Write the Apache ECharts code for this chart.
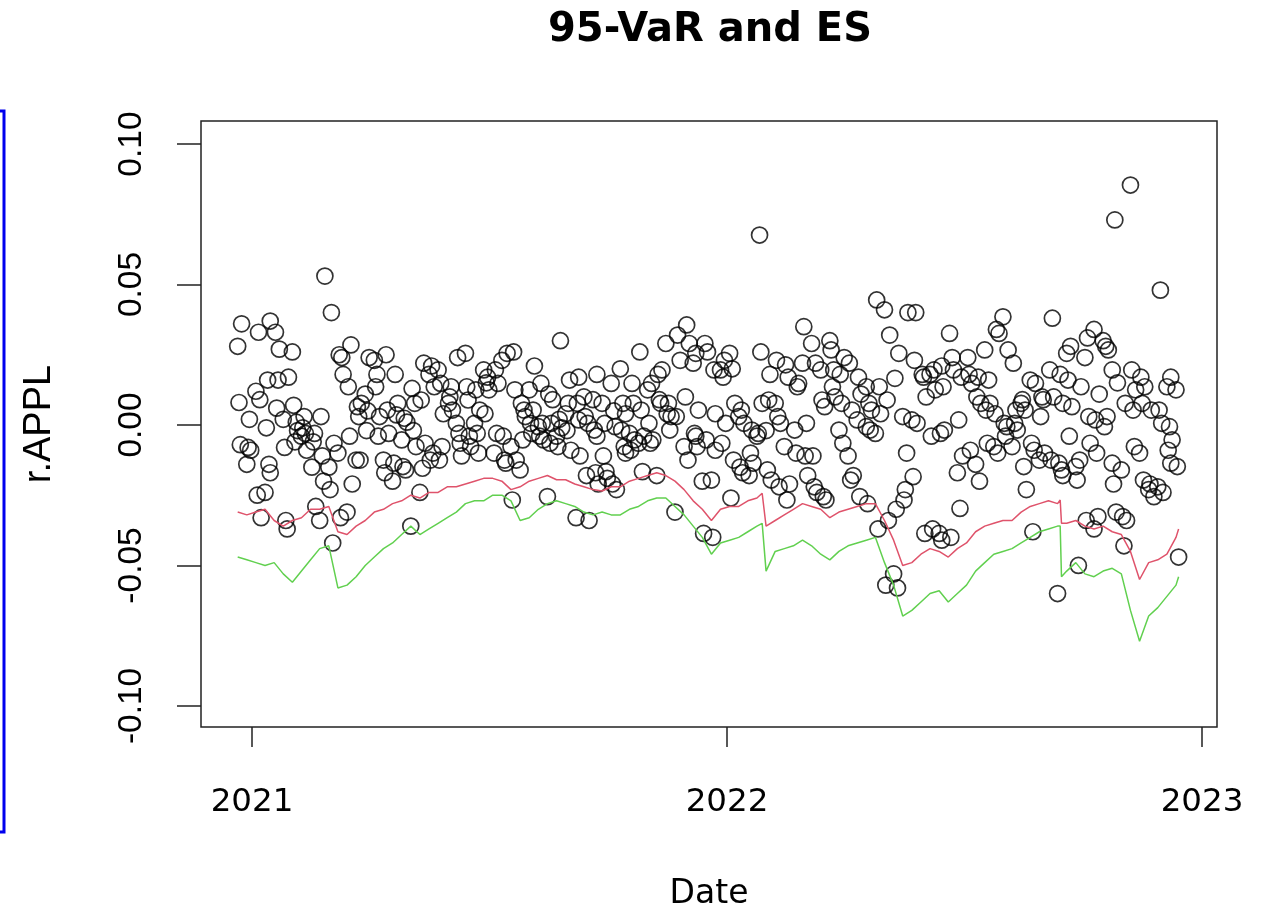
<!DOCTYPE html>
<html><head><meta charset="utf-8">
<script src="https://cdn.jsdelivr.net/npm/echarts@6/dist/echarts.min.js"></script>
<style>html,body{margin:0;padding:0;background:#fff}#c{width:1266px;height:909px}</style>
</head><body><div id="c"></div>
<script>
// ---------- DATA ----------
const holidays = ['2020-12-25','2021-01-01','2021-01-18','2021-02-15','2021-04-02','2021-05-31','2021-07-05','2021-09-06','2021-11-25','2021-12-24','2022-01-17','2022-02-21','2022-04-15','2022-05-30','2022-06-20','2022-07-04','2022-09-05','2022-11-24'];
const firstDay = '2020-12-21', lastDay = '2022-12-14';
const yearTicks = ['2021-01-01','2022-01-01','2023-01-01'];
const yTicks = [-0.10,-0.05,0.00,0.05,0.10];

// daily returns r.APPL, listed month by month (in date order within a month)
const r2020_12 = [0.028,0.008,-0.007,0.036,-0.014,-0.008,0.002,-0.009];
const r2021_01 = [0.012,-0.025,0.033,0.009,-0.033,-0.024,-0.001,0.016,-0.014,-0.017,0.037,0.033,0.006,0.016,0.027,0.002,-0.008,-0.034,-0.037,0.017];
const r2021_02 = [0.026,0.007,-0.006,0.001,-0.002,-0.004,-0.001,0.003,-0.003,-0.009,-0.015,-0.006,-0.003,-0.029,-0.034,0.003,-0.011,-0.020,0.053];
const r2021_03 = [-0.015,-0.023,0.040,-0.042,-0.0065,-0.010,0.025,-0.033,0.024,0.018,-0.031,0.0136,-0.004,0.0285,-0.021,-0.0125,0.0065,0.003,-0.0125,0.0077,0.011,-0.002,0.005];
const r2021_04 = [0.024,0.023,0.0136,0.018,-0.004,0.003,-0.0125,-0.017,0.025,0.0053,-0.003,-0.020,-0.0136,0.018,0.0036,0.0077,-0.0053,-0.0148,0.0024,-0.016,0.001];
const r2021_05 = [-0.036,0.013,-0.002,0.0077,-0.0077,-0.024,0.0089,-0.0154,0.022,-0.0065,0.018,-0.0125,0.021,-0.010,0.0136,0.0196,-0.0125,0.0148,-0.0077,0.004];
const r2021_06 = [0.0077,0.010,0.0136,0.0053,0.0006,0.024,-0.003,-0.0065,-0.011,0.0255,0.0136,0.0089,-0.004,-0.0077,0.0006,0.0125,-0.003,-0.010,0.0053,0.0196,0.004,0.015];
const r2021_07 = [0.017,0.0125,-0.010,0.0196,-0.003,0.0148,0.023,-0.004,-0.0125,-0.0136,0.0255,-0.0077,-0.0267,0.026,0.0125,-0.0125,-0.016,0.0077,-0.0053,0.0053,0.003];
const r2021_08 = [0.0125,0.0006,-0.003,0.0053,0.021,-0.0006,-0.004,0.0148,0.0006,-0.0053,-0.0255,0.011,-0.0065,0.0006,0.009,-0.004,-0.0077,0.002,0.030,-0.001,0.004,-0.002];
const r2021_09 = [0.0077,0.016,-0.009,-0.033,0.0077,0.0018,0.017,-0.011,0.010,0.003,-0.018,0.0006,-0.034,0.009,-0.0018,-0.017,0.018,-0.004,-0.021,0.0077,-0.011,0.0006,-0.0166];
const r2021_10 = [-0.019,0.0148,-0.021,0.005,-0.0006,-0.023,0.020,-0.0018,0.0077,-0.0077,-0.010,0.004,-0.003,-0.009,0.0148,0.0077,-0.0053,-0.0065,0.026,0.0053,-0.0166,-0.004];
const r2021_11 = [0.0125,0.0006,-0.0065,0.0148,-0.0053,-0.018,0.018,0.009,0.0077,0.0196,0.029,0.004,0.0077,-0.0018,0.003,-0.031,0.003,0.032,0.023,-0.0077,0.010];
const r2021_12 = [0.0356,-0.0125,0.029,0.022,-0.003,0.0255,-0.004,-0.0077,0.0053,-0.020,-0.0386,0.029,-0.0053,0.026,-0.0196,-0.040,0.0196,-0.009,0.004,0.0196,-0.0065,0.017,0.023,0.0006];
const r2022_01 = [0.0255,-0.026,0.020,-0.0125,0.0077,0.003,-0.015,0.0053,-0.017,0.0006,-0.018,-0.010,-0.0018,-0.0136,-0.004,-0.003,0.0676,0.026,0.0077,-0.002];
const r2022_02 = [-0.016,0.0089,0.018,-0.0196,0.0077,0.023,0.003,-0.022,0.0006,-0.0077,0.0214,-0.0267,0.017,-0.021,-0.0018,-0.010,0.0136,0.0148,0.022];
const r2022_03 = [0.035,-0.011,0.0006,-0.018,0.029,-0.011,-0.022,0.022,-0.024,0.0196,0.0089,-0.0255,0.0065,-0.0267,0.030,0.0267,0.0136,0.0196,0.010,-0.0018,0.018,0.0077,-0.0065];
const r2022_04 = [0.024,-0.011,0.022,-0.0196,0.0053,-0.018,0.0018,0.017,-0.0255,0.011,0.0136,-0.0006,-0.028,0.0077,-0.0018,0.0053,-0.003,0.0445,-0.037,0.0136,0.004];
const r2022_05 = [0.041,-0.057,0.0089,-0.034,0.032,-0.053,0.0166,-0.030,-0.058,0.0255,0.003,-0.0267,-0.023,-0.010,0.040,0.0018,-0.0184,0.023,0.040,0.0006,0.018];
const r2022_06 = [0.017,-0.0386,0.010,0.018,-0.004,-0.037,0.0196,0.0125,-0.0386,-0.003,0.021,-0.041,0.0136,-0.0018,0.0326,-0.040,0.024,0.0196,-0.017,0.0018,-0.0297,0.017];
const r2022_07 = [-0.011,0.024,0.018,-0.009,0.0148,-0.014,0.010,0.017,-0.020,0.0077,0.0267,0.0053,-0.0065,0.016,0.0077,-0.0077,0.004,0.034,-0.010,0.0326];
const r2022_08 = [0.0385,0.0006,-0.004,-0.0006,0.0267,-0.0077,0.022,0.0006,0.0053,-0.0018,0.0077,0.009,-0.0148,0.0053,-0.023,0.016,-0.0065,-0.038,-0.009,0.0148,-0.0125,0.003,0.010];
const r2022_09 = [0.009,-0.010,0.0196,-0.0125,0.038,0.010,-0.060,-0.0136,0.018,-0.016,0.0077,-0.018,0.0255,0.016,-0.004,0.028,0.0065,-0.0148,-0.0196,-0.050,-0.0125,0.0136];
const r2022_10 = [0.024,-0.034,0.031,0.003,-0.0065,-0.037,0.034,0.0018,-0.010,-0.0326,0.011,0.030,-0.0006,0.028,0.003,0.0267,0.0196,-0.0136,-0.021,0.073,-0.031,0.015,-0.016];
const r2022_11 = [-0.0326,-0.043,0.0077,-0.034,0.0854,0.0196,0.0053,-0.0077,0.0125,-0.010,0.017,0.0077,-0.0196,0.0136,-0.023,-0.021,0.0053,-0.0255,-0.022,0.0053,0.048];
const r2022_12 = [0.0006,-0.024,0.0136,-0.009,-0.0006,0.017,-0.0136,-0.0053,0.0125,-0.0148,-0.047];

// 95% VaR (red) and ES (green), read weekly (Mondays from firstDay) plus a few extra dates
const var95 = [-0.031,-0.032,-0.031,-0.030,-0.034,-0.036,-0.034,-0.033,-0.030,-0.030,
 -0.029,-0.038,-0.039,-0.036,-0.034,-0.031,-0.030,-0.028,-0.027,-0.025,
 -0.026,-0.024,-0.024,-0.022,-0.022,-0.021,-0.020,-0.019,-0.019,-0.020,
 -0.023,-0.022,-0.020,-0.019,-0.018,-0.0195,-0.0195,-0.021,-0.022,-0.023,
 -0.0235,-0.022,-0.022,-0.020,-0.019,-0.018,-0.017,-0.018,-0.020,-0.023,
 -0.027,-0.030,-0.034,-0.030,-0.029,-0.029,-0.027,-0.026,-0.036,-0.034,
 -0.032,-0.030,-0.028,-0.029,-0.030,-0.033,-0.031,-0.030,-0.029,-0.028,
 -0.028,-0.034,-0.041,-0.050,-0.049,-0.046,-0.044,-0.045,-0.047,-0.044,
 -0.042,-0.038,-0.036,-0.035,-0.034,-0.034,-0.031,-0.029,-0.028,-0.027,
 -0.028,-0.035,-0.034,-0.036,-0.037,-0.036,-0.038,-0.039,-0.045,-0.055,
 -0.049,-0.048,-0.046,-0.040];
const es95 = [-0.047,-0.048,-0.049,-0.050,-0.049,-0.053,-0.056,-0.052,-0.048,-0.044,
 -0.043,-0.058,-0.057,-0.054,-0.050,-0.047,-0.044,-0.042,-0.039,-0.036,
 -0.039,-0.037,-0.035,-0.033,-0.031,-0.028,-0.027,-0.027,-0.025,-0.025,
 -0.027,-0.034,-0.033,-0.030,-0.028,-0.027,-0.028,-0.029,-0.031,-0.032,
 -0.031,-0.032,-0.032,-0.030,-0.029,-0.027,-0.026,-0.026,-0.029,-0.032,
 -0.036,-0.040,-0.046,-0.042,-0.041,-0.040,-0.038,-0.036,-0.052,-0.045,
 -0.044,-0.043,-0.041,-0.043,-0.046,-0.048,-0.045,-0.043,-0.042,-0.041,
 -0.040,-0.049,-0.057,-0.068,-0.066,-0.063,-0.060,-0.059,-0.063,-0.060,
 -0.057,-0.052,-0.049,-0.046,-0.045,-0.044,-0.042,-0.040,-0.038,-0.037,
 -0.036,-0.052,-0.049,-0.053,-0.054,-0.052,-0.051,-0.053,-0.066,-0.077,
 -0.068,-0.065,-0.061,-0.057];
const varExtra = [['2022-01-28',-0.0243],['2022-09-14',-0.0267],['2022-09-15',-0.035],['2022-12-14',-0.037]];
const esExtra  = [['2022-01-28',-0.035],['2022-09-14',-0.036],['2022-09-15',-0.054],['2022-12-14',-0.054]];

// ---------- BUILD ----------
const DAY = 86400000;
const parse = s => { const p = s.split('-').map(Number); return Date.UTC(p[0], p[1]-1, p[2]); };
const iso = t => new Date(t).toISOString().slice(0,10);
const T0 = parse('2021-01-01');            // x axis measured in days from 2021-01-01
const dayOf = t => (t - T0) / DAY;
const monthArrays = {
  '2020-12':r2020_12,'2021-01':r2021_01,'2021-02':r2021_02,'2021-03':r2021_03,'2021-04':r2021_04,'2021-05':r2021_05,
  '2021-06':r2021_06,'2021-07':r2021_07,'2021-08':r2021_08,'2021-09':r2021_09,'2021-10':r2021_10,'2021-11':r2021_11,
  '2021-12':r2021_12,'2022-01':r2022_01,'2022-02':r2022_02,'2022-03':r2022_03,'2022-04':r2022_04,'2022-05':r2022_05,
  '2022-06':r2022_06,'2022-07':r2022_07,'2022-08':r2022_08,'2022-09':r2022_09,'2022-10':r2022_10,'2022-11':r2022_11,
  '2022-12':r2022_12
};
const byMonth = {};
for (let t = parse(firstDay); t <= parse(lastDay); t += DAY) {
  const wd = new Date(t).getUTCDay();
  if (wd === 0 || wd === 6) continue;
  const s = iso(t);
  if (holidays.includes(s)) continue;
  (byMonth[s.slice(0,7)] = byMonth[s.slice(0,7)] || []).push(t);
}
const points = [];
Object.keys(monthArrays).forEach(k => {
  const vals = monthArrays[k], ds = byMonth[k];
  vals.forEach((v, j) => {
    const idx = vals.length === 1 ? 0 : Math.round(j * (ds.length - 1) / (vals.length - 1));
    points.push([dayOf(ds[idx]), v]);
  });
});
function lineData(weekly, extra) {
  const out = weekly.map((v, k) => [dayOf(parse(firstDay)) + k * 7, v]);
  extra.forEach(e => out.push([dayOf(parse(e[0])), e[1]]));
  return out.sort((a, b) => a[0] - b[0]);
}
const xTickVals = yearTicks.map(s => dayOf(parse(s)));
const FONT = 'Liberation Sans', WIDE = 'DejaVu Sans';

const chart = echarts.init(document.getElementById('c'));
chart.setOption({
  animation: false,
  backgroundColor: '#fff',
  title: {
    text: '95-VaR and ES', left: 705, top: 6, textAlign: 'center',
    textStyle: { fontFamily: WIDE, fontSize: 40, fontWeight: 'bold', color: '#000' }
  },
  graphic: [{
    type: 'rect', shape: { x: -10, y: 111, width: 14, height: 721 },
    style: { fill: null, stroke: '#0000ee', lineWidth: 3 }
  }],
  grid: { left: 201, right: 49, top: 121, bottom: 182, outerBoundsMode: 'none', containLabel: false,
    show: true, borderColor: '#222', borderWidth: 1.5, backgroundColor: 'transparent' },
  xAxis: {
    type: 'value',
    min: -39.2, max: 741.5,
    name: 'Date', nameLocation: 'middle', nameGap: 151,
    nameTextStyle: { fontFamily: WIDE, fontSize: 33, color: '#000' },
    axisLine: { show: false, onZero: false },
    splitLine: { show: false },
    axisTick: { show: true, length: 20, customValues: xTickVals, lineStyle: { color: '#222', width: 1.5 } },
    axisLabel: { customValues: xTickVals, margin: 59, fontFamily: WIDE, fontSize: 32.5, color: '#000',
      formatter: v => String(new Date(T0 + v * DAY).getUTCFullYear()) }
  },
  yAxis: {
    type: 'value', min: -0.1075, max: 0.1082,
    name: 'r.APPL', nameLocation: 'middle', nameGap: 142, nameRotate: 90,
    nameTextStyle: { fontFamily: FONT, fontSize: 38, color: '#000' },
    axisLine: { show: false, onZero: false },
    splitLine: { show: false },
    axisTick: { show: true, length: 24, customValues: yTicks, lineStyle: { color: '#222', width: 1.5 } },
    axisLabel: { customValues: yTicks, rotate: 90, margin: 52, fontFamily: FONT, fontSize: 33.5, color: '#000',
      formatter: v => Number(v).toFixed(2) }
  },
  series: [
    { type: 'scatter', data: points, symbol: 'circle', symbolSize: 16,
      itemStyle: { color: 'rgba(0,0,0,0)', borderColor: '#000', borderWidth: 1.7 }, z: 2 },
    { type: 'line', data: lineData(var95, varExtra), showSymbol: false, symbol: 'none',
      lineStyle: { color: '#DF536B', width: 1.5 }, z: 3 },
    { type: 'line', data: lineData(es95, esExtra), showSymbol: false, symbol: 'none',
      lineStyle: { color: '#61D04F', width: 1.5 }, z: 3 }
  ]
});
</script>
</body></html>
